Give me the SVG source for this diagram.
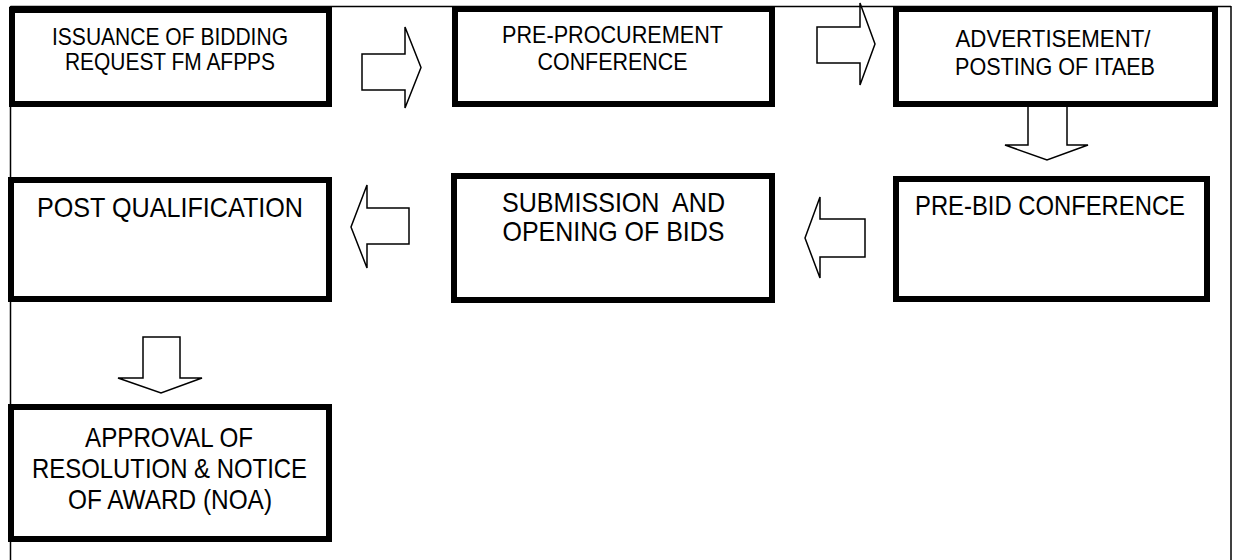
<svg xmlns="http://www.w3.org/2000/svg" width="1236" height="560" viewBox="0 0 1236 560">
  <style>
    .frame { stroke: #000; stroke-width: 1.5; fill: none; }
    .box { fill: #fff; stroke: #000; stroke-width: 6; }
    .arrow { fill: #fff; stroke: #000; stroke-width: 1.5; stroke-linejoin: miter; }
    .t1 { font-family: "Liberation Sans", Arial, sans-serif; font-size: 24px; fill: #000; text-anchor: middle; }
    .t2 { font-family: "Liberation Sans", Arial, sans-serif; font-size: 27.5px; fill: #000; text-anchor: middle; white-space: pre; }
  </style>
  <rect width="1236" height="560" fill="#fff"/>

  <!-- outer page frame -->
  <g id="frame">
    <line class="frame" x1="10.5" y1="6.5" x2="1231" y2="6.5"/>
    <line class="frame" x1="10.5" y1="6" x2="10.5" y2="560"/>
    <line class="frame" x1="1231" y1="6" x2="1231" y2="560"/>
  </g>

  <!-- block arrows between the steps -->
  <g id="connectors">
    <path class="arrow" d="M362,54 H405 V27 L421,67.5 L405,108 V90 H362 Z"/>
    <path class="arrow" d="M817,27 H860 V3 L875,44 L860,85 V63 H817 Z"/>
    <path class="arrow" d="M1028,107 V145 H1005 L1047,160 L1088,145 H1067 V107"/>
    <path class="arrow" d="M865,219 H820 V197 L805,238 L820,278 V257 H865 Z"/>
    <path class="arrow" d="M409,208 H367 V185 L351,227 L367,268 V244 H409 Z"/>
    <path class="arrow" d="M143,337 H180 V378 H202 L161,393 L118,378 H143 Z"/>
  </g>

  <g id="issuance">
    <rect class="box" x="12" y="10" width="317" height="94"/>
    <text class="t1" x="170" y="44.5" textLength="236" lengthAdjust="spacingAndGlyphs">ISSUANCE OF BIDDING</text>
    <text class="t1" x="170" y="70" textLength="210" lengthAdjust="spacingAndGlyphs">REQUEST FM AFPPS</text>
  </g>

  <g id="pre-procurement">
    <rect class="box" x="455" y="9" width="317" height="95"/>
    <text class="t1" x="612.5" y="43" textLength="221" lengthAdjust="spacingAndGlyphs">PRE-PROCUREMENT</text>
    <text class="t1" x="612.5" y="70" textLength="150" lengthAdjust="spacingAndGlyphs">CONFERENCE</text>
  </g>

  <g id="advertisement">
    <rect class="box" x="896" y="9" width="319" height="95"/>
    <text class="t1" x="1053" y="47" textLength="195" lengthAdjust="spacingAndGlyphs">ADVERTISEMENT/</text>
    <text class="t1" x="1055" y="75" textLength="200" lengthAdjust="spacingAndGlyphs">POSTING OF ITAEB</text>
  </g>

  <g id="post-qualification">
    <rect class="box" x="11" y="180" width="318" height="119"/>
    <text class="t2" x="170" y="217" textLength="266" lengthAdjust="spacingAndGlyphs">POST QUALIFICATION</text>
  </g>

  <g id="submission">
    <rect class="box" x="454" y="176" width="318" height="124"/>
    <text class="t2" x="613.5" y="212" textLength="223" lengthAdjust="spacingAndGlyphs">SUBMISSION  AND</text>
    <text class="t2" x="613.5" y="241" textLength="222" lengthAdjust="spacingAndGlyphs">OPENING OF BIDS</text>
  </g>

  <g id="pre-bid">
    <rect class="box" x="896" y="179" width="311" height="120"/>
    <text class="t2" x="1050" y="215" textLength="270" lengthAdjust="spacingAndGlyphs">PRE-BID CONFERENCE</text>
  </g>

  <g id="approval">
    <rect class="box" x="11" y="407" width="318" height="132"/>
    <text class="t2" x="169" y="447" textLength="168" lengthAdjust="spacingAndGlyphs">APPROVAL OF</text>
    <text class="t2" x="169.5" y="478" textLength="275" lengthAdjust="spacingAndGlyphs">RESOLUTION &amp; NOTICE</text>
    <text class="t2" x="170" y="509" textLength="204" lengthAdjust="spacingAndGlyphs">OF AWARD (NOA)</text>
  </g>
</svg>
